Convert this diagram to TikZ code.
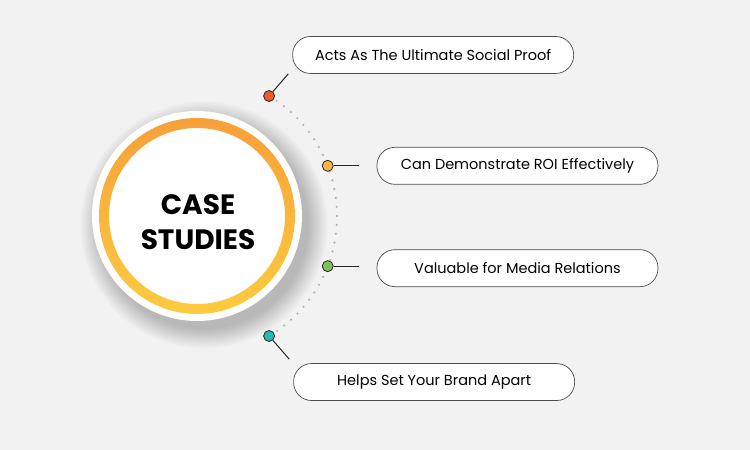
\documentclass[tikz,border=0pt]{standalone}
\usepackage{fontspec}
\setmainfont{Poppins}
\usetikzlibrary{positioning, calc}

\definecolor{bgcol}{HTML}{F2F2F3}
\definecolor{ringtop}{HTML}{F7A03A}
\definecolor{ringbot}{HTML}{FDCB3F}
\definecolor{dotred}{HTML}{EE5B2B}
\definecolor{dotyellow}{HTML}{FBB540}
\definecolor{dotgreen}{HTML}{7DC455}
\definecolor{dotteal}{HTML}{27B8AE}

\begin{document}
\begin{tikzpicture}[x=1pt, y=1pt,
  pill/.style={draw=black!70, line width=0.7pt, fill=white, rounded corners=18pt, minimum width=281pt, minimum height=37pt, font=\fontsize{14.5}{17}\selectfont},
  marker/.style={circle, draw=black!85, line width=0.8pt, inner sep=0pt, minimum size=11pt},
  link/.style={draw=black!85, line width=1pt}]

  \fill[bgcol] (0,0) rectangle (750,450);
  \coordinate (cs) at (197,234);

  % soft shadow
  \foreach \i in {0,...,14}
    \fill[black, opacity=0.015] ($(cs)+(7,-9)$) circle ({104+\i*1.4});

  % dotted track
  \draw[black!30, line width=2.4pt, line cap=round, dash pattern=on 0pt off 9pt] ($(cs)+(59:140)$) arc (59:-59:140);

  \node[circle, fill=white, minimum size=210pt] (disc) at (cs) {};
  \shade[top color=ringtop, bottom color=ringbot, even odd rule] (cs) circle (98) circle (88);
  \node[align=center, font=\fontsize{28}{35}\selectfont\bfseries] (title) at ($(cs)+(1,-6)$) {CASE\\STUDIES};

  \node[marker, fill=dotred] (d1) at ($(cs)+(59:140)$) {};
  \node[marker, fill=dotyellow] (d2) at ($(cs)+(21:140)$) {};
  \node[marker, fill=dotgreen] (d3) at ($(cs)+(-21:140)$) {};
  \node[marker, fill=dotteal] (d4) at ($(cs)+(-59:140)$) {};

  \node[pill, above right=18pt and 19pt of d1] (b1) {Acts As The Ultimate Social Proof};
  \node[pill, right=43pt of d2] (b2) {Can Demonstrate ROI Effectively};
  \node[pill, right=43pt of d3, yshift=-2pt] (b3) {Valuable for Media Relations};
  \node[pill, below right=23pt and 20pt of d4] (b4) {Helps Set Your Brand Apart};

  \draw[link] (d1) -- ([xshift=-4pt]b1.south west);
  \draw[link] (d2) -- ([xshift=-18pt]b2.west);
  \draw[link] (d3) -- ([xshift=-18pt]b3.west |- d3);
  \draw[link] (d4) -- ([shift={(-4pt,4pt)}]b4.north west);
\end{tikzpicture}
\end{document}
